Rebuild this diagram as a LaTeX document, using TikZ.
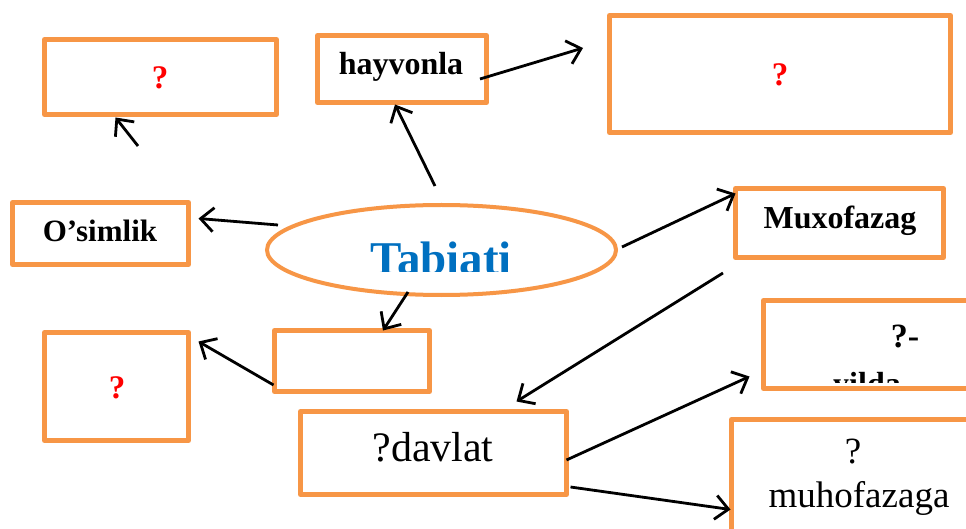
\documentclass[tikz,border=0pt]{standalone}
\usepackage{fontspec}
\setmainfont{Liberation Serif}
\usetikzlibrary{arrows.meta,shapes.geometric,calc}
\definecolor{org}{HTML}{F79646}
\definecolor{tblue}{HTML}{0070C0}
\definecolor{qred}{HTML}{FF0000}
\begin{document}
\begin{tikzpicture}[x=1pt,y=-1pt,
  box/.style={draw=org,line width=5pt,line join=round,rectangle,inner sep=0pt,outer sep=0pt,fill=white},
  arr/.style={draw=black,line width=2.8pt,-{Straight Barb[length=13pt,width=24pt]}},
  bt/.style={font=\fontsize{32}{32}\selectfont\bfseries,inner sep=0pt,anchor=base},
  rt/.style={font=\fontsize{#1}{#1}\selectfont,inner sep=0pt,anchor=base},
  qm/.style={font=\fontsize{33}{33}\selectfont\bfseries,text=qred,inner sep=0pt}]
\clip (0,0) rectangle (966,529);
\fill[white] (0,0) rectangle (966,529);

% boxes
\node[box,minimum width=232pt,minimum height=75pt] (A) at (160.5,77) {};
\node[box,minimum width=169pt,minimum height=67pt] (B) at (402,69) {};
\node[box,minimum width=341pt,minimum height=117pt] (C) at (780,74) {};
\node[box,minimum width=176pt,minimum height=62pt] (D) at (100.5,233.5) {};
\node[box,minimum width=155pt,minimum height=61pt] (E) at (352,361) {};
\node[box,minimum width=144pt,minimum height=108pt] (F) at (116.5,386.5) {};
\node[box,minimum width=266pt,minimum height=83pt] (G) at (433.5,453) {};
\node[box,minimum width=208pt,minimum height=69pt] (H) at (839.5,223) {};
\node[box,minimum width=244pt,minimum height=88pt] (I) at (885.5,344.5) {};
\node[box,minimum width=276pt,minimum height=138pt] (J) at (869.5,488.5) {};
\node[ellipse,draw=org,line width=4pt,fill=white,minimum width=349pt,minimum height=90pt,inner sep=0pt] (ell) at (441.5,250) {};

% texts
\node[qm] (qA) at (160,78) {?};
\node[qm] (qC) at (780,75) {?};
\node[qm] (qF) at (117,388) {?};
\node[bt] (tB) at (401,75) {hayvonla};
\node[bt,font=\fontsize{31}{31}\selectfont\bfseries] (tD) at (100,242) {O’simlik};
\node[bt] (tH) at (840,229) {Muxofazag};
\node[bt,font=\fontsize{34}{34}\selectfont\bfseries] (tI1) at (905,347) {?-};
\begin{scope}
  \clip (770,300) rectangle (966,382);
  \node[bt] (tI2) at (867,394) {yilda};
\end{scope}
\begin{scope}
  \clip (280,210) rectangle (600,272);
  \node[bt,font=\fontsize{47}{47}\selectfont\bfseries,text=tblue] (tab) at (441,275) {Tabiati};
\end{scope}
\node[rt=42] (tG) at (433,461) {?davlat};
\node[rt=37] (tJ1) at (853,463) {?};
\node[rt=37] (tJ2) at (859,507) {muhofazaga};

% connector end points
\coordinate (s1) at (435,186);
\coordinate (e1) at ($(B.south)+(-7,2)$);
\coordinate (s2) at (480,79);
\coordinate (e2) at (583,48);
\coordinate (s3) at (138,146);
\coordinate (e3) at ($(A.south west)+(71,3)$);
\coordinate (s4) at (278,225);
\coordinate (e4) at ($(D.east)+(10,-15)$);
\coordinate (s5) at (408,292);
\coordinate (e5) at ($(E.north)+(31,0)$);
\coordinate (s6) at ($(E.west)+(-1,24)$);
\coordinate (e6) at ($(F.north east)+(10,9)$);
\coordinate (s7) at (622,247);
\coordinate (e7) at ($(H.north west)+(0,5)$);
\coordinate (s8) at (723,273);
\coordinate (e8) at ($(G.north)+(83,-10)$);
\coordinate (s9) at ($(G.east)+(0,7)$);
\coordinate (e9) at ($(I.south west)+(-14,-12)$);
\coordinate (s10) at ($(G.east)+(4,34)$);
\coordinate (e10) at ($(J.west)+(-1,21)$);

\draw[arr] (s1) -- (e1);
\draw[arr] (s2) -- (e2);
\draw[arr] (s3) -- (e3);
\draw[arr] (s4) -- (e4);
\draw[arr] (s5) -- (e5);
\draw[arr] (s6) -- (e6);
\draw[arr] (s7) -- (e7);
\draw[arr] (s8) -- (e8);
\draw[arr] (s9) -- (e9);
\draw[arr] (s10) -- (e10);
\end{tikzpicture}
\end{document}
